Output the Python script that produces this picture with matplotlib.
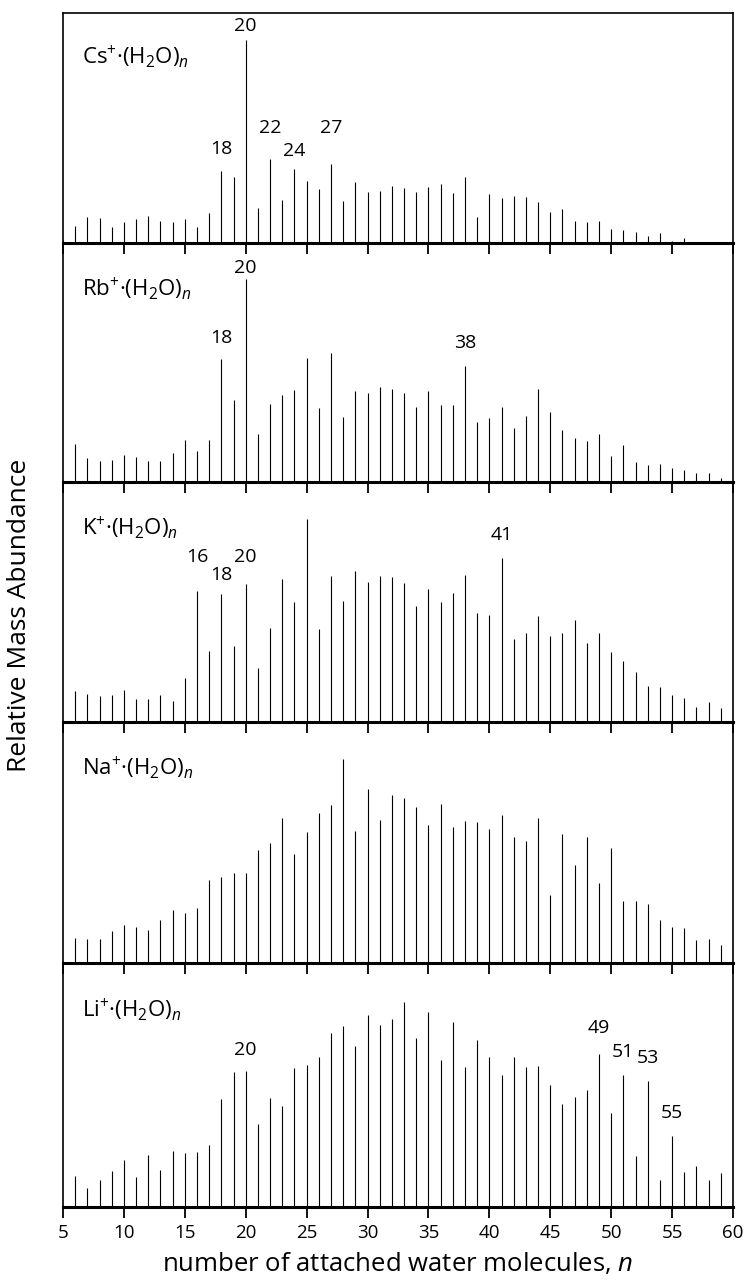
import numpy as np
import matplotlib.pyplot as plt

plt.rcParams['font.family'] = ['Open Sans', 'DejaVu Sans']
plt.rcParams['mathtext.fontset'] = 'custom'
plt.rcParams['mathtext.rm'] = 'Open Sans'
plt.rcParams['mathtext.it'] = 'Open Sans:italic'

# cluster size n = 5 .. 60
n = np.arange(5, 61)

# peak heights (arbitrary units)
cs = [3, 17, 26, 25, 16, 21, 24, 27, 22, 21, 24, 16, 30, 72, 66, 202, 35, 84, 43, 74,
      62, 54, 79, 42, 61, 51, 52, 57, 55, 51, 56, 59, 50, 66, 26, 49, 45, 47, 46, 41,
      31, 34, 22, 21, 22, 14, 13, 11, 7, 10, 2, 5, 1, 1, 1, 1]
rb = [2, 38, 24, 21, 22, 27, 25, 21, 21, 29, 42, 31, 42, 122, 82, 202, 48, 78, 87, 92,
      123, 74, 128, 65, 91, 89, 95, 93, 89, 75, 91, 77, 77, 115, 60, 64, 75, 54, 66, 93,
      70, 52, 44, 41, 48, 26, 37, 20, 17, 18, 14, 12, 9, 9, 4, 1]
k = [2, 31, 28, 26, 27, 32, 23, 23, 27, 21, 44, 130, 71, 127, 76, 137, 54, 94, 142, 119,
     202, 93, 145, 120, 150, 139, 145, 144, 138, 115, 132, 119, 128, 146, 109, 107, 163, 83, 89, 106,
     86, 89, 102, 79, 89, 70, 61, 50, 36, 35, 27, 24, 15, 20, 14, 3]
na = [2, 25, 24, 24, 32, 38, 36, 33, 43, 53, 50, 55, 83, 86, 90, 90, 113, 119, 144, 109,
      130, 149, 157, 203, 131, 173, 142, 167, 164, 155, 137, 158, 135, 141, 140, 133, 147, 125, 121, 144,
      68, 128, 98, 125, 80, 114, 62, 62, 59, 43, 36, 35, 23, 24, 18, 15]
li = [2, 31, 19, 27, 36, 47, 30, 52, 37, 56, 54, 55, 62, 108, 134, 135, 83, 109, 101, 138,
      141, 149, 173, 180, 160, 191, 181, 187, 204, 168, 194, 146, 184, 139, 166, 149, 131, 149, 139, 140,
      121, 103, 110, 117, 152, 94, 131, 51, 125, 27, 71, 35, 41, 27, 34, 12]

ions = ['Cs', 'Rb', 'K', 'Na', 'Li']
spectra = [cs, rb, k, na, li]

# labelled magic numbers per panel
marks = [[18, 20, 22, 24, 27], [18, 20, 38], [16, 18, 20, 41], [], [20, 49, 51, 53, 55]]
mark_y = [[94, 216, 114, 92, 114], [143, 213, 138], [164, 146, 164, 186], [], [156, 178, 154, 148, 94]]

ytop = [229, 238, 239, 240, 243]

fig, axes = plt.subplots(5, 1, sharex=True, figsize=(7.46, 12.83), dpi=100,
                         gridspec_kw=dict(height_ratios=ytop, hspace=0))
fig.subplots_adjust(left=63/746, right=733/746, bottom=76/1283, top=1 - 13/1283)

for ax, ion, y, mk, my, top in zip(axes, ions, spectra, marks, mark_y, ytop):
    ax.set_facecolor('none')
    ax.vlines(n, 0, y, color='k', lw=0.8)
    ax.set_xlim(5, 60)
    ax.set_ylim(0, top)
    ax.set_yticks([])
    ax.set_xticks(range(5, 61, 5))
    ax.tick_params(axis='x', direction='out', length=8, width=1.3, labelsize=13.5, pad=4)
    for s in ax.spines.values():
        s.set_linewidth(1.2)
    ax.spines['bottom'].set_linewidth(2.2)
    ax.text(0.028, 0.81, ion + r'$^{+}$·(H$_{2}$O)$_{n}$', transform=ax.transAxes,
            fontsize=16, va='center', ha='left')
    for m, h in zip(mk, my):
        ax.text(m, h, str(m), ha='center', va='center', fontsize=14)

axes[-1].set_xlabel('number of attached water molecules, $n$', fontsize=18.5, labelpad=7)
fig.text(20/746, 0.52, 'Relative Mass Abundance', rotation=90, ha='center', va='center', fontsize=19)

fig.savefig('out.png', dpi=100)
